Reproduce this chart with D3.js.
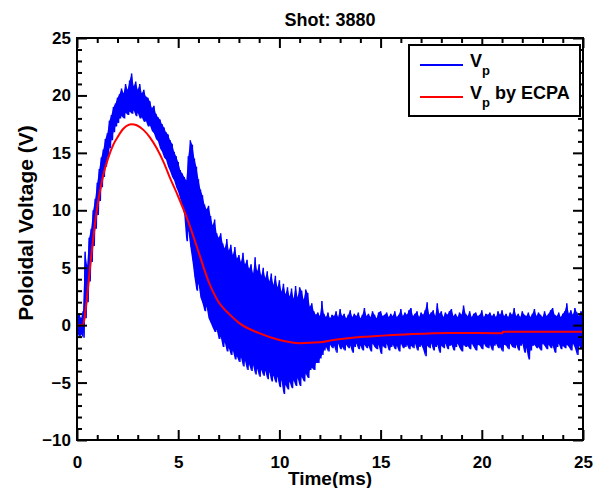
<!DOCTYPE html>
<html>
<head>
<meta charset="utf-8">
<script src="https://cdn.jsdelivr.net/npm/d3@7"></script>
<style>
body { margin: 0; background: #fff; }
text { font-family: 'Liberation Sans', Arial, Helvetica, sans-serif; font-weight: bold; fill: #000; }
</style>
</head>
<body>
<div id="chart"></div>
<script>
const title = 'Shot: 3880';
const xLabel = 'Time(ms)';
const yLabel = 'Poloidal Voltage (V)';
const xTicks = [0, 5, 10, 15, 20, 25];
const yTicks = [-10, -5, 0, 5, 10, 15, 20, 25];

// measured Vp, sampled every 0.1 ms: upper / lower edge of the noise
const vpStep = 0.1;
const vpHigh = [
  0.8, 1.0, 0.6, 1.2, 6.4, 5.2, 7.6, 8.4, 10.0, 11.0,
  12.4, 13.6, 14.6, 15.3, 16.2, 16.7, 17.8, 18.3, 19.0, 19.3,
  19.8, 20.1, 20.6, 20.2, 21.0, 20.5, 21.3, 21.9, 20.8, 21.2,
  20.5, 21.0, 20.2, 20.5, 19.9, 19.8, 19.5, 18.9, 19.1, 18.4,
  18.1, 17.9, 17.5, 17.2, 16.8, 16.6, 16.1, 15.8, 15.1, 14.7,
  14.2, 13.5, 13.2, 12.9, 12.6, 14.7, 16.1, 15.7, 14.5, 13.8,
  12.7, 11.8, 11.3, 10.5, 10.1, 10.4, 9.5, 8.7, 9.2, 8.0,
  7.6, 8.0, 7.1, 6.7, 7.5, 6.5, 7.0, 6.1, 6.8, 5.8,
  6.1, 5.5, 6.3, 5.3, 5.7, 4.9, 5.3, 4.5, 5.9, 4.7,
  5.3, 4.3, 5.0, 4.1, 4.7, 3.8, 4.5, 3.5, 4.3, 3.3,
  3.9, 2.9, 3.6, 2.7, 3.3, 2.5, 3.2, 2.3, 3.4, 2.4,
  3.3, 3.0, 2.2, 3.1, 2.8, 1.6, 1.9, 1.2, 0.9, 1.1,
  0.8, 2.1, 1.0, 0.7, 1.1, 0.6, 0.9, 0.8, 1.2, 0.7,
  1.4, 0.8, 1.0, 0.6, 0.9, 1.3, 0.7, 1.0, 0.8, 1.1,
  0.6, 0.9, 1.5, 0.8, 1.0, 0.7, 1.2, 0.9, 0.6, 1.1,
  1.2, 0.8, 0.9, 1.1, 0.7, 1.0, 0.8, 1.2, 0.7, 0.9,
  1.4, 0.8, 1.1, 0.9, 1.3, 1.5, 0.8, 1.0, 1.2, 0.7,
  1.1, 0.9, 1.3, 2.0, 0.9, 1.1, 1.3, 0.8, 1.9, 1.0,
  1.2, 0.7, 1.1, 0.9, 1.2, 1.4, 0.8, 1.0, 0.7, 1.1,
  0.9, 1.7, 1.0, 0.8, 1.2, 0.7, 1.0, 1.1, 0.8, 0.9,
  1.3, 0.7, 1.0, 0.9, 1.1, 0.8, 1.0, 0.7, 1.2, 0.9,
  1.3, 0.8, 1.0, 0.7, 1.1, 0.9, 1.5, 0.8, 1.0, 0.7,
  1.2, 0.9, 0.8, 1.1, 0.7, 1.0, 1.4, 0.8, 1.1, 0.9,
  0.7, 1.2, 0.8, 1.0, 1.3, 1.5, 0.9, 0.8, 1.1, 0.7,
  1.0, 1.2, 1.9, 1.0, 1.3, 0.9, 1.5, 1.1, 0.8, 1.2,
  1.0
];
const vpLow = [
  -0.6, -1.0, -0.8, -1.1, 0.6, 2.0, 3.8, 5.5, 6.9, 8.4,
  9.6, 10.8, 12.0, 12.9, 13.8, 14.6, 15.4, 16.1, 16.8, 17.3,
  17.6, 18.0, 18.2, 18.0, 18.5, 18.3, 18.6, 18.4, 18.7, 18.2,
  18.5, 18.0, 18.1, 17.7, 17.8, 17.3, 17.4, 16.9, 16.7, 16.2,
  16.0, 15.4, 15.1, 14.6, 14.4, 13.8, 13.4, 12.9, 12.6, 12.0,
  11.6, 11.0, 10.4, 9.6, 7.3, 8.2, 6.8, 5.6, 4.2, 3.0,
  3.6, 2.4, 1.9, 1.2, 1.6, 0.6, 0.2, -0.2, -0.6, -0.4,
  -1.2, -1.0, -1.9, -1.5, -2.3, -2.0, -2.6, -2.2, -3.0, -2.7,
  -3.2, -2.8, -3.6, -3.1, -3.9, -3.4, -4.0, -3.5, -4.3, -3.8,
  -4.5, -3.9, -4.4, -4.0, -4.7, -4.1, -4.9, -4.4, -5.0, -4.5,
  -5.4, -4.8, -6.0, -5.2, -5.6, -4.9, -5.5, -4.8, -5.3, -4.6,
  -5.3, -4.5, -4.9, -4.2, -4.6, -3.9, -3.7, -3.9, -3.3, -3.3,
  -2.9, -2.6, -2.2, -1.9, -2.3, -1.7, -2.0, -1.8, -2.4, -1.6,
  -2.1, -1.9, -2.2, -1.7, -2.0, -1.8, -2.4, -1.9, -1.6, -2.1,
  -1.8, -2.2, -1.7, -2.0, -1.8, -2.3, -1.6, -1.9, -2.1, -1.7,
  -2.5, -1.8, -2.0, -1.6, -2.2, -1.9, -1.7, -2.1, -1.8, -2.3,
  -1.6, -2.0, -1.9, -1.7, -2.1, -1.8, -2.0, -1.6, -2.2, -1.9,
  -1.7, -2.1, -2.7, -1.8, -2.0, -1.6, -2.2, -1.9, -1.7, -2.4,
  -1.8, -2.0, -1.6, -2.1, -1.8, -1.7, -2.2, -1.9, -1.6, -2.0,
  -2.3, -1.7, -1.9, -1.8, -2.1, -1.6, -1.9, -2.2, -1.7, -1.8,
  -2.1, -1.6, -1.9, -2.0, -1.7, -2.2, -1.8, -1.6, -2.0, -1.9,
  -2.3, -1.7, -1.8, -2.1, -1.6, -1.9, -2.0, -1.7, -2.2, -1.8,
  -1.6, -2.4, -2.0, -3.0, -2.2, -1.8, -1.7, -2.0, -1.9, -2.2,
  -1.6, -1.8, -2.1, -1.7, -2.0, -1.8, -2.4, -1.9, -1.6, -2.1,
  -1.8, -2.0, -1.7, -1.9, -2.2, -1.6, -2.0, -2.6, -1.8, -2.1,
  -1.9
];

// Vp reconstructed by ECPA
const ecpaTime = [0, 0.3, 0.4, 0.5, 0.64, 0.8, 0.97, 1.15, 1.3, 1.55, 1.79, 2.05, 2.29, 2.5, 2.7, 2.95, 3.28, 3.6, 3.94, 4.3, 4.6, 5.0, 5.5, 6.0, 6.5, 7.0, 7.5, 8.0, 9.0, 10.0, 11.0, 12.0, 12.66, 14.3, 16.3, 18.4, 21.0, 21.05, 25];
const ecpaValue = [0, 0, 1.0, 2.5, 5.0, 7.5, 9.9, 11.8, 13.1, 14.6, 15.7, 16.5, 17.1, 17.4, 17.5, 17.4, 17.0, 16.35, 15.4, 14.1, 12.8, 11.2, 9.0, 6.4, 3.8, 2.0, 1.0, 0.2, -0.7, -1.3, -1.57, -1.5, -1.3, -1.0, -0.8, -0.68, -0.7, -0.58, -0.58];

const width = 607, height = 488;
const margin = {top: 38, right: 24, bottom: 48, left: 77};
const w = width - margin.left - margin.right;
const h = height - margin.top - margin.bottom;

const svg = d3.select('#chart').append('svg')
    .attr('width', width)
    .attr('height', height);

const g = svg.append('g')
    .attr('transform', 'translate(' + margin.left + ',' + margin.top + ')');

let xScale = d3.scaleLinear().domain([0, 25]).range([0, w]);
let yScale = d3.scaleLinear().domain([-10, 25]).range([h, 0]);

g.append('clipPath').attr('id', 'clip')
    .append('rect').attr('width', w).attr('height', h);

// blue trace: each sample goes from its upper to its lower edge
const vpPoints = [];
vpHigh.forEach((v, i) => {
    vpPoints.push([i * vpStep, v]);
    vpPoints.push([i * vpStep + vpStep / 2, vpLow[i]]);
});

const line = d3.line()
    .x(d => xScale(d[0]))
    .y(d => yScale(d[1]));

// solid core of the noise band
const band = d3.area()
    .x((d, i) => xScale(i * vpStep))
    .y0((d, i) => yScale(vpLow[i]))
    .y1(d => yScale(d));

g.append('path')
    .datum(vpHigh)
    .attr('clip-path', 'url(#clip)')
    .attr('fill', '#0000ff')
    .attr('d', band);

g.append('path')
    .datum(vpPoints)
    .attr('clip-path', 'url(#clip)')
    .attr('fill', 'none')
    .attr('stroke', '#0000ff')
    .attr('stroke-width', 1.5)
    .attr('d', line);

const ecpa = ecpaTime.map((t, i) => [t, ecpaValue[i]]);
g.append('path')
    .datum(ecpa)
    .attr('clip-path', 'url(#clip)')
    .attr('fill', 'none')
    .attr('stroke', '#ff0000')
    .attr('stroke-width', 2)
    .attr('d', line.curve(d3.curveMonotoneX));

// axes, ticks pointing inward on all four sides
const minorX = d3.range(0, 26, 1).filter(v => v % 5 !== 0);
const minorY = d3.range(-10, 26, 1).filter(v => v % 5 !== 0);
const fmt = d3.format('');

function styleAxis(sel) {
    sel.select('.domain').remove();
    sel.selectAll('line').attr('stroke', '#000').attr('stroke-width', 2);
    sel.selectAll('text').style('font-size', '17px').attr('fill', '#000');
}

g.append('g').attr('transform', 'translate(0,' + h + ')')
    .call(d3.axisBottom(xScale).tickValues(xTicks).tickSize(-10).tickPadding(16).tickFormat(fmt))
    .call(styleAxis);
g.append('g').attr('transform', 'translate(0,' + h + ')')
    .call(d3.axisBottom(xScale).tickValues(minorX).tickSize(-5).tickFormat(''))
    .call(styleAxis);
g.append('g')
    .call(d3.axisTop(xScale).tickValues(xTicks).tickSize(-10).tickFormat(''))
    .call(styleAxis);
g.append('g')
    .call(d3.axisTop(xScale).tickValues(minorX).tickSize(-5).tickFormat(''))
    .call(styleAxis);

g.append('g')
    .call(d3.axisLeft(yScale).tickValues(yTicks).tickSize(-10).tickPadding(6))
    .call(styleAxis);
g.append('g')
    .call(d3.axisLeft(yScale).tickValues(minorY).tickSize(-5).tickFormat(''))
    .call(styleAxis);
g.append('g').attr('transform', 'translate(' + w + ',0)')
    .call(d3.axisRight(yScale).tickValues(yTicks).tickSize(-10).tickFormat(''))
    .call(styleAxis);
g.append('g').attr('transform', 'translate(' + w + ',0)')
    .call(d3.axisRight(yScale).tickValues(minorY).tickSize(-5).tickFormat(''))
    .call(styleAxis);

g.append('rect')
    .attr('width', w).attr('height', h)
    .attr('fill', 'none')
    .attr('stroke', '#000')
    .attr('stroke-width', 2);

// labels
svg.append('text')
    .attr('x', margin.left + w / 2).attr('y', 26)
    .attr('text-anchor', 'middle')
    .style('font-size', '18px')
    .text(title);

svg.append('text')
    .attr('x', margin.left + w / 2).attr('y', 485)
    .attr('text-anchor', 'middle')
    .style('font-size', '19px')
    .text(xLabel);

svg.append('text')
    .attr('transform', 'translate(33,' + 223 + ')rotate(-90)')
    .attr('text-anchor', 'middle')
    .style('font-size', '21px')
    .text(yLabel);

// legend
const legend = svg.append('g').attr('transform', 'translate(409,45)');
legend.append('rect')
    .attr('width', 171).attr('height', 71)
    .attr('fill', '#fff')
    .attr('stroke', '#000')
    .attr('stroke-width', 2);

const legendItems = [
    {color: '#0000ff', suffix: ''},
    {color: '#ff0000', suffix: ' by ECPA'}
];
legendItems.forEach((item, i) => {
    const y = 20 + i * 32;
    legend.append('line')
        .attr('x1', 11).attr('x2', 54)
        .attr('y1', y).attr('y2', y)
        .attr('stroke', item.color)
        .attr('stroke-width', 2);
    const t = legend.append('text')
        .attr('x', 61).attr('y', y + 2)
        .style('font-size', '18px');
    t.append('tspan').text('V');
    t.append('tspan').attr('dy', 8).style('font-size', '13px').text('p');
    t.append('tspan').attr('dy', -8).text(item.suffix);
});
</script>
</body>
</html>
